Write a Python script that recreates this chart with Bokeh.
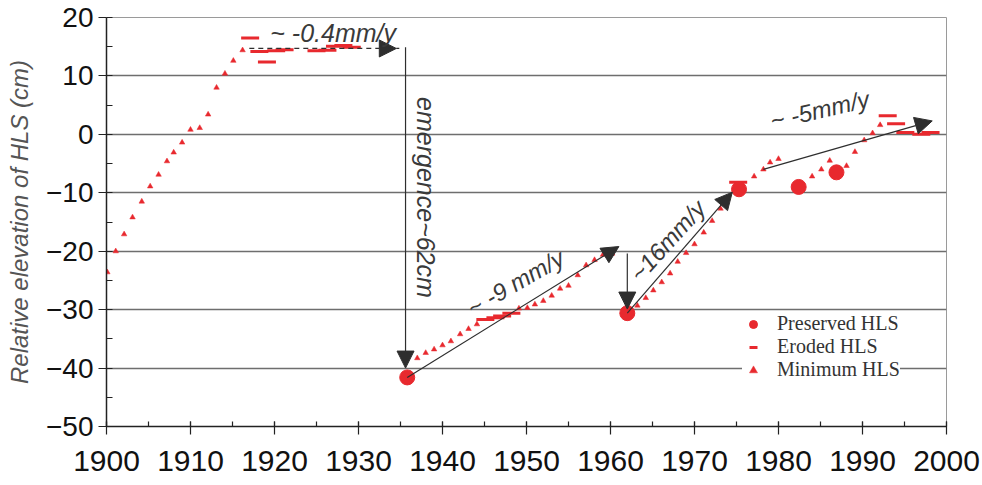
import numpy as np
from bokeh.plotting import figure
from bokeh.models import (Range1d, FixedTicker, Arrow, NormalHead, Label,
                          Legend, LegendItem)
from bokeh.embed import file_html
from bokeh.resources import INLINE

# ---------------- data ----------------
min_year = [1900.1, 1901.1, 1902.1, 1903.1, 1904.2, 1905.2, 1906.2, 1907.2, 1908.0,
            1909.0, 1910.0, 1911.1, 1912.1, 1913.1, 1914.1, 1915.1, 1916.2,
            1937.0, 1938.0, 1939.0, 1940.0, 1941.0, 1942.1, 1943.1, 1944.1,
            1949.1, 1950.1, 1951.0, 1952.0, 1953.0, 1954.0, 1955.0, 1956.1,
            1957.1, 1958.1, 1959.1, 1960.2,
            1963.2, 1964.2, 1965.1, 1966.1, 1967.1, 1968.0, 1969.0, 1970.0,
            1971.1, 1972.1, 1973.1,
            1977.1, 1978.2, 1979.0, 1980.0, 1984.0, 1985.1, 1986.1,
            1988.1, 1989.1, 1990.2, 1991.2, 1992.1]
min_elev = [-23.6, -20.0, -17.1, -14.2, -11.5, -8.9, -6.9, -4.6, -3.1,
            -1.4, 0.8, 1.1, 3.4, 8.0, 10.4, 12.6, 14.4,
            -38.3, -37.4, -36.8, -36.1, -35.4, -34.2, -33.3, -32.5,
            -29.8, -29.7, -29.1, -28.5, -27.6, -26.4, -25.9, -24.1,
            -22.4, -21.5, -20.6, -20.4,
            -29.3, -28.0, -26.7, -25.3, -23.8, -21.8, -20.3, -18.8,
            -16.8, -14.8, -12.7,
            -7.2, -6.0, -4.8, -4.2, -7.2, -6.0, -4.5,
            -5.4, -3.0, -1.0, 0.2, 1.6]

ero_year = [1917.1, 1918.2, 1919.1, 1920.2, 1921.2, 1925.0, 1926.3, 1927.2,
            1928.2, 1929.2, 1945.1, 1946.3, 1947.1, 1948.2, 1975.2,
            1993.0, 1994.0, 1995.1, 1997.0, 1998.1]
ero_elev = [16.5, 14.2, 12.4, 14.3, 14.5, 14.3, 14.4, 15.1,
            15.2, 14.9, -31.7, -31.4, -31.1, -30.6, -8.2,
            3.2, 1.8, 0.3, 0.0, 0.3]

pre_year = [1935.8, 1962.0, 1975.3, 1982.4, 1986.9]
pre_elev = [-41.6, -30.6, -9.4, -9.0, -6.5]

x_ticks = list(range(1900, 2001, 10))
x_minor = list(range(1900, 2001, 5))
y_ticks = list(range(-50, 21, 10))
y_minor = list(range(-50, 21, 5))

# annotation arrows: (x_start, y_start, x_end, y_end, dashed)
arrows = [
    (1917.0, 14.7, 1934.5, 14.7, True),
    (1935.6, 14.9, 1935.6, -40.0, False),
    (1935.8, -41.6, 1961.0, -19.2, False),
    (1962.0, -20.4, 1962.0, -29.9, False),
    (1962.0, -30.6, 1974.5, -9.9, False),
    (1978.2, -6.0, 1998.3, 2.3, False),
]
# annotation texts: (text, x, y, angle_deg, align, size)
notes = [
    ("~ -0.4mm/y", 1919.5, 17.4, 0, "left", "25px"),
    ("emergence~62cm", 1938.0, -10.8, -90, "center", "25px"),
    ("~ -9 mm/y", 1948.7, -25.4, 30, "center", "24px"),
    ("~16mm/y", 1966.8, -18.2, 48, "center", "24px"),
    ("~ -5mm/y", 1984.9, 4.2, 13, "center", "24px"),
]

RED = "#e8292e"
DARK = "#2e2e2e"

p = figure(width=982, height=485, output_backend="svg", toolbar_location=None,
           title=None,
           x_range=Range1d(1900, 2000), y_range=Range1d(-50, 20),
           min_border_left=106, min_border_right=36, min_border_top=17,
           min_border_bottom=59, background_fill_color="white",
           border_fill_color="white")

p.outline_line_color = "#9a9a9a"
p.outline_line_width = 1

# axes
p.xaxis.ticker = FixedTicker(ticks=x_ticks, minor_ticks=x_minor)
p.yaxis.ticker = FixedTicker(ticks=y_ticks, minor_ticks=y_minor)
for ax in (p.xaxis, p.yaxis):
    ax.axis_line_color = "#222222"
    ax.axis_line_width = 1.5
    ax.major_tick_line_color = "#222222"
    ax.minor_tick_line_color = "#222222"
    ax.major_tick_line_width = 1.2
    ax.minor_tick_line_width = 1.2
    ax.major_label_text_font = "Liberation Sans"
    ax.major_label_text_color = "#111111"
p.xaxis.major_label_text_font_size = "30px"
p.yaxis.major_label_text_font_size = "28px"
p.xaxis.major_tick_in = 5
p.xaxis.major_tick_out = 8
p.xaxis.minor_tick_in = 5
p.xaxis.minor_tick_out = 0
p.xaxis.major_label_standoff = 16
p.yaxis.major_tick_in = 0
p.yaxis.major_tick_out = 8
p.yaxis.minor_tick_in = 6
p.yaxis.minor_tick_out = 0
p.yaxis.major_label_standoff = 5
p.yaxis.axis_label = "Relative elevation of HLS (cm)"
p.yaxis.axis_label_text_font = "Liberation Sans"
p.yaxis.axis_label_text_font_style = "italic"
p.yaxis.axis_label_text_font_size = "24px"
p.yaxis.axis_label_text_color = "#555555"
p.yaxis.axis_label_standoff = 10

p.xgrid.visible = False
p.ygrid.ticker = FixedTicker(ticks=y_ticks)
p.ygrid.grid_line_color = "#6e6e6e"
p.ygrid.grid_line_width = 1.5

# data marks
r_min = p.scatter(min_year, min_elev, marker="triangle", size=5.5,
                  fill_color=RED, line_color=RED, line_width=0.5)
r_ero = p.scatter(ero_year, ero_elev, marker="dash", size=18,
                  line_color=RED, line_width=3)
r_pre = p.scatter(pre_year, pre_elev, marker="circle", size=15,
                  fill_color=RED, line_color=RED)

# arrows
for (xs, ys, xe, ye, dashed) in arrows:
    a = Arrow(end=NormalHead(size=17, fill_color=DARK, line_color=DARK, line_width=1),
              x_start=xs, y_start=ys, x_end=xe, y_end=ye,
              line_color=DARK, line_width=1.2,
              line_dash="5 4" if dashed else "solid")
    p.add_layout(a)
# small dashed continuation past the first arrowhead
p.segment(x0=[arrows[0][2]], y0=[arrows[0][3]], x1=[1935.2], y1=[arrows[0][3]],
          line_color=DARK, line_width=1.2, line_dash="3 3")

# annotation texts
for (txt, x, y, ang, align, fs) in notes:
    p.add_layout(Label(x=x, y=y, text=txt, angle=np.deg2rad(ang),
                       text_align=align, text_baseline="middle",
                       text_font="Liberation Sans", text_font_style="italic",
                       text_font_size=fs, text_color="#3a3a3a"))

legend = Legend(items=[LegendItem(label="Preserved HLS", renderers=[r_pre]),
                       LegendItem(label="Eroded HLS", renderers=[r_ero]),
                       LegendItem(label="Minimum HLS", renderers=[r_min])],
                location=(636, 45),
                label_text_font="Liberation Serif", label_text_font_size="20px",
                label_text_color="#333333",
                background_fill_color="white", background_fill_alpha=1.0,
                border_line_color=None, padding=5, spacing=0, margin=0,
                glyph_width=22, glyph_height=20, label_standoff=13,
                label_height=20)
p.add_layout(legend)

open("out.html", "w").write(file_html(p, INLINE))
